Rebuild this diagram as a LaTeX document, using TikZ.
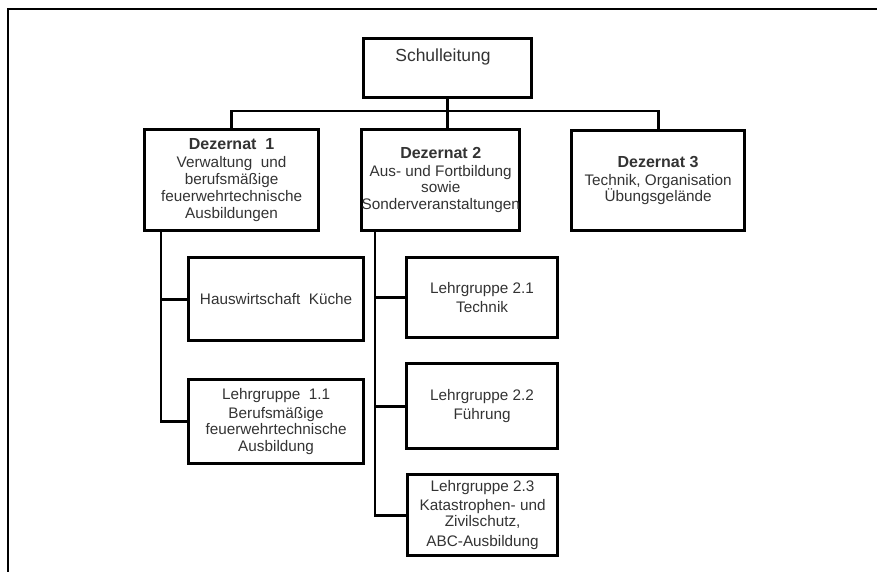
\documentclass[tikz,border=0pt]{standalone}
\usepackage{fontspec}
\setmainfont{Liberation Sans}
\newcommand{\hdr}[1]{{\fontsize{16}{18}\selectfont\bfseries #1}}
\begin{document}
\begin{tikzpicture}[x=1pt,y=-1pt,
  box/.style={draw=black, line width=3.2pt, fill=white, anchor=north west, inner sep=0pt,
    align=center, text=black!80, font=\fontsize{15.3}{16.8}\selectfont},
  conn/.style={draw=black, line width=2.8pt},
  frameline/.style={draw=black, line width=2pt}]
\useasboundingbox (0,0) rectangle (877,572);
\draw[frameline] (877,9) -- (8,9) -- (8,572);

% top
\node[box, minimum width=168pt, minimum height=59pt] (sl) at (362,37) {};
\node[text=black!80, font=\fontsize{17.5}{19}\selectfont] (slt) at (443,57) {Schulleitung};

% Dezernate
\node[box, minimum width=174pt, minimum height=101pt] (d1) at (143,128)
  {\hdr{Dezernat\ \ 1}\\[1pt]Verwaltung\ \ und\\berufsmäßige\\feuerwehrtechnische\\Ausbildungen};
\node[box, minimum width=156pt, minimum height=101pt] (d2) at (360,128)
  {\hdr{Dezernat 2}\\[1pt]Aus- und Fortbildung\\sowie\\Sonderveranstaltungen};
\node[box, minimum width=173pt, minimum height=100pt] (d3) at (570,129)
  {\hdr{Dezernat 3}\\[1pt]Technik, Organisation\\Übungsgelände};

% Dezernat 1 children
\node[box, minimum width=175pt, minimum height=83pt] (hk) at (187,256) {Hauswirtschaft\ \ Küche};
\node[box, minimum width=175pt, minimum height=84pt] (lg11) at (187,378)
  {Lehrgruppe\ \ 1.1\\[2pt]Berufsmäßige\\feuerwehrtechnische\\Ausbildung};

% Dezernat 2 children
\node[box, minimum width=151pt, minimum height=80pt] (lg21) at (405,256)
  {Lehrgruppe\ 2.1\\[2pt]Technik};
\node[box, minimum width=151pt, minimum height=85pt] (lg22) at (405,362)
  {Lehrgruppe\ 2.2\\[2pt]Führung};
\node[box, minimum width=150pt, minimum height=81pt] (lg23) at (406,473)
  {Lehrgruppe\ 2.3\\[2pt]Katastrophen-\ und\\Zivilschutz,\\[3pt]ABC-Ausbildung};

% connectors
\coordinate (bus) at (446,111);
\coordinate (v1) at (161,0);
\coordinate (v2) at (375,0);
\draw[conn] (sl.south) -- (sl.south |- d2.north);
\draw[conn] (d1.north) |- (bus) -| (d3.north);
\draw[conn] (d1.south -| v1) |- (hk.west);
\draw[conn] (d1.south -| v1) |- (lg11.west);
\draw[conn] (d2.south -| v2) |- (lg21.west);
\draw[conn] (d2.south -| v2) |- (lg22.west);
\draw[conn] (d2.south -| v2) |- (lg23.west);
\end{tikzpicture}
\end{document}
